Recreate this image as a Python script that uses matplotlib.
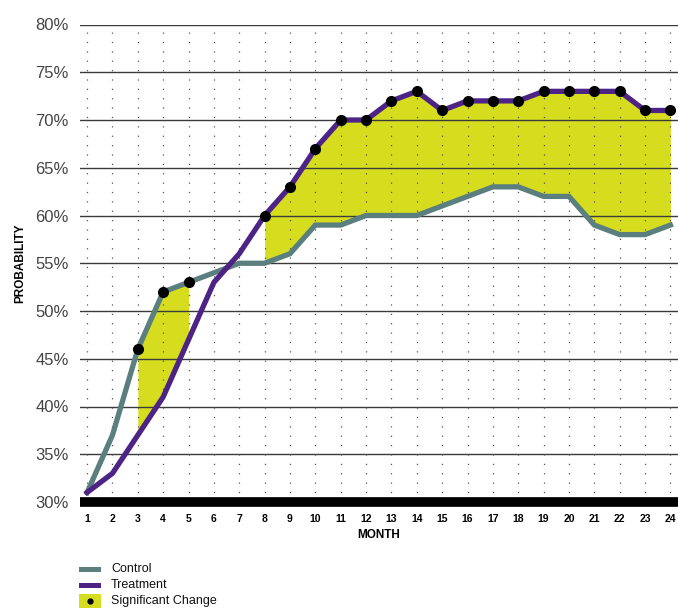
import matplotlib
matplotlib.use("Agg")
import matplotlib.pyplot as plt
from matplotlib.patches import Rectangle
from matplotlib.lines import Line2D
import numpy as np

months = list(range(1, 25))
control = [31, 37, 46, 52, 53, 54, 55, 55, 56, 59, 59, 60, 60, 60, 61, 62, 63, 63, 62, 62, 59, 58, 58, 59]
treatment = [31, 33, 37, 41, 47, 53, 56, 60, 63, 67, 70, 70, 72, 73, 71, 72, 72, 72, 73, 73, 73, 73, 71, 71]
sig_control_months = [3, 4, 5]
sig_treatment_months = list(range(8, 25))
yticks = [30, 35, 40, 45, 50, 55, 60, 65, 70, 75, 80]

C_CTRL = "#5b7f7e"
C_TRT = "#4d2486"
C_FILL = "#d6dd1f"

plt.rcParams['font.family'] = ['Liberation Sans', 'DejaVu Sans']

fig = plt.figure(figsize=(6.78, 6.14), dpi=100)
ax = fig.add_axes([80/678, (614-502)/614, (678-80)/678, (502-24.5)/614])
ax.set_xlim(0.72, 24.3)
ax.set_ylim(30, 80)

m = np.array(months)
c = np.array(control, dtype=float)
t = np.array(treatment, dtype=float)

# fills for significant regions
for seg in (sig_control_months, sig_treatment_months):
    mask = (m >= seg[0]) & (m <= seg[-1])
    ax.fill_between(m[mask], c[mask], t[mask], color=C_FILL, lw=0, zorder=1)

# grid
for v in yticks[1:]:
    ax.axhline(v, color="#3a3a3a", lw=1.0, zorder=2)
for mm in months:
    ax.axvline(mm, color="#555555", lw=0.9, linestyle=(0, (1, 6.5)), zorder=2)

ax.plot(m, c, color=C_CTRL, lw=3.8, zorder=3, solid_joinstyle='miter')
ax.plot(m, t, color=C_TRT, lw=3.8, zorder=4, solid_joinstyle='miter')

sc = [control[months.index(x)] for x in sig_control_months]
st = [treatment[months.index(x)] for x in sig_treatment_months]
ax.plot(sig_control_months, sc, 'o', color='black', ms=7, zorder=5)
ax.plot(sig_treatment_months, st, 'o', color='black', ms=7, zorder=5)

# baseline black bar
ax.axhline(30, color='black', lw=7, zorder=6, clip_on=False, solid_capstyle='butt')

for s in ax.spines.values():
    s.set_visible(False)

ax.set_yticks(yticks)
ax.set_yticklabels([f"{v}%" for v in yticks], fontsize=12, color="#444444")
ax.set_xticks(months)
ax.set_xticklabels([str(x) for x in months], fontsize=7.5, fontweight='bold')
ax.tick_params(axis='y', length=0, pad=8)
ax.tick_params(axis='x', length=0, pad=9)
ax.set_xlabel("MONTH", fontsize=8.5, fontweight='bold', labelpad=3)
ax.set_ylabel("PROBABILITY", fontsize=8.5, fontweight='bold', labelpad=7)

# legend
rows = [("Control", 569), ("Treatment", 585), ("Significant Change", 601)]
for label, ypx in rows:
    yf = 1 - ypx/614
    if label == "Control":
        fig.add_artist(Rectangle((79/678, yf - 2.5/614), 22/678, 5/614, transform=fig.transFigure, color=C_CTRL, lw=0))
    elif label == "Treatment":
        fig.add_artist(Rectangle((79/678, yf - 2.5/614), 22/678, 5/614, transform=fig.transFigure, color=C_TRT, lw=0))
    else:
        fig.add_artist(Rectangle((79/678, yf - 7/614), 22/678, 14/614, transform=fig.transFigure, color=C_FILL, lw=0))
        fig.add_artist(Line2D([90/678], [yf], marker='o', color='black', ms=3.5, transform=fig.transFigure))
    fig.text(111/678, yf, label, fontsize=9, va='center', ha='left', color='#111111')

fig.savefig("out.png", dpi=100)
